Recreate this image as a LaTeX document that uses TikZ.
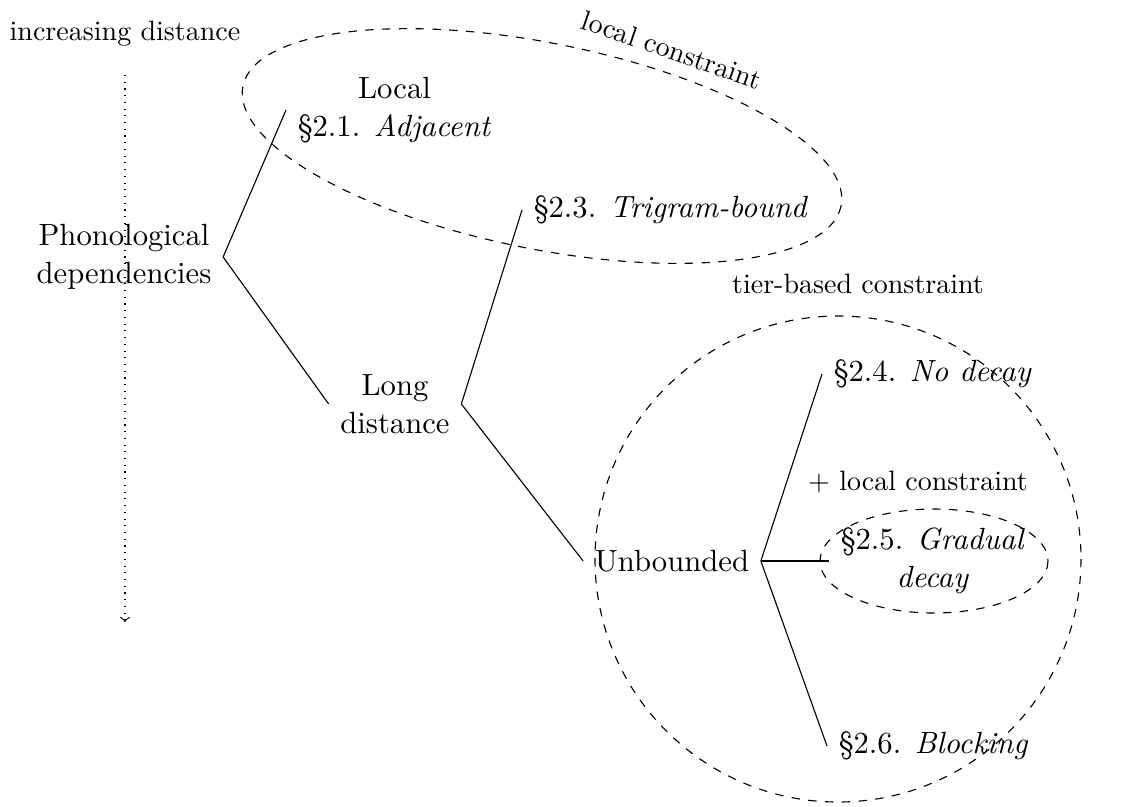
\documentclass[tikz,border=0pt]{standalone}
\usetikzlibrary{arrows}
\begin{document}
\begin{tikzpicture}[x=0.35714pt,y=-0.35714pt,
  tn/.style={font=\fontsize{10.95}{13.6}\selectfont, inner xsep=4pt, inner ysep=2pt, align=center},
  lbl/.style={font=\fontsize{10}{12}\selectfont, inner sep=0pt},
  branch/.style={line width=0.4pt},
  region/.style={dashed, line width=0.4pt}]
\useasboundingbox (0,0) rectangle (1126,806);

% regions
\draw[region, rotate around={-11.3:(542,146)}] (542,146) ellipse (305 and 103);
\draw[region] (838,559) circle (243);
\draw[region] (934,561) ellipse (114 and 52);

% labels
\node[lbl, anchor=base] (incr) at (125,40) {increasing distance};
\node[lbl, anchor=base] (tier) at (858,293) {tier-based constraint};
\node[lbl, anchor=base] (plc) at (918,490) {+ local constraint};
\node[lbl, rotate=-19] (lc) at (672,50) {local constraint};

% tree nodes
\node[tn] (root) at (124,257) {Phonological\\dependencies};
\node[tn, anchor=west] (local) at (286,110) {Local\\\S2.1. \textit{Adjacent}};
\node[tn] (long) at (395,404) {Long\\distance};
\node[tn, anchor=west] (tri) at (522,210) {\S2.3. \textit{Trigram-bound}};
\node[tn] (unb) at (672,561) {Unbounded};
\node[tn, anchor=west] (nod) at (822,374) {\S2.4. \textit{No decay}};
\node[tn, anchor=west] (grad) at (829,561) {\S2.5. \textit{Gradual}\\\textit{decay}};
\node[tn, anchor=west] (blk) at (827,746) {\S2.6. \textit{Blocking}};

% edges
\draw[branch] (root.east) -- (local.west);
\draw[branch] (root.east) -- (long.west);
\draw[branch] (long.east) -- (tri.west);
\draw[branch] (long.east) -- (unb.west);
\draw[branch] (unb.east) -- (nod.west);
\draw[branch] (unb.east) -- (grad.west);
\draw[branch] (unb.east) -- (blk.west);

% distance arrow
\coordinate (aS) at (125,75);
\coordinate (aE) at (125,622);
\draw[dotted, ->] (aS) -- (aE);
\end{tikzpicture}
\end{document}
